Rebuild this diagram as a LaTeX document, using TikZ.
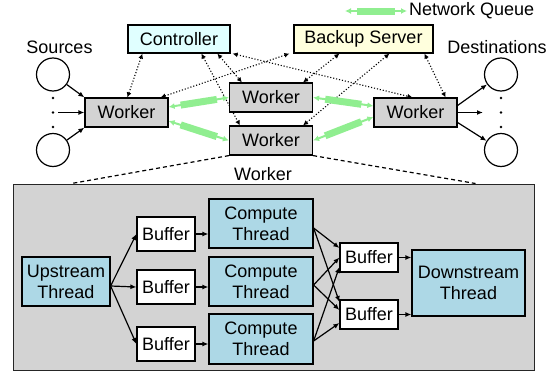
\documentclass[tikz,border=0pt]{standalone}
\usepackage{fontspec}
\setmainfont{Liberation Sans}
\usetikzlibrary{arrows.meta,calc,backgrounds}
\definecolor{ctrlcyan}{HTML}{E0FFFF}
\definecolor{bsyellow}{HTML}{FFFFDD}
\definecolor{wgray}{HTML}{D3D3D3}
\definecolor{tblue}{HTML}{ADD8E6}
\definecolor{qgreen}{HTML}{90EE90}
\newcommand\netqueue[2]{%
  \draw[qthin] (#1) -- (#2);
  \draw[qthick] ($(#1)!0.2!(#2)$) -- ($(#1)!0.8!(#2)$);}
\begin{document}
\begin{tikzpicture}[x=1pt,y=-1pt,
  every node/.style={font=\fontsize{18}{21}\selectfont},
  box/.style={draw=black, line width=1.2pt, inner sep=0pt},
  ctrlbox/.style={box, fill=ctrlcyan, minimum width=102pt, minimum height=28pt},
  bsbox/.style={box, fill=bsyellow, minimum width=139pt, minimum height=28pt},
  wbox/.style={box, fill=wgray, minimum width=83pt, minimum height=29pt},
  bigbox/.style={draw=black!85, line width=1pt, fill=wgray, inner sep=0pt},
  tbox/.style={box, fill=tblue, align=center},
  bufbox/.style={box, fill=white, minimum width=58pt},
  circ/.style={draw=black, circle, line width=1.2pt, minimum size=33pt, inner sep=0pt},
  dotn/.style={circle, fill=black, minimum size=2.6pt, inner sep=0pt},
  arr/.style={line width=1.2pt, -{Latex[length=6pt,width=5pt]}},
  dotconn/.style={line width=1.1pt, dash pattern=on 1.1pt off 1.9pt,
     {Latex[length=5pt,width=5pt]}-{Latex[length=5pt,width=5pt]}},
  dashconn/.style={line width=1.2pt, dash pattern=on 4pt off 3pt},
  qthin/.style={draw=qgreen, line width=2pt,
     {Latex[length=6pt,width=6pt]}-{Latex[length=6pt,width=6pt]}},
  qthick/.style={draw=qgreen, line width=7pt}
]
\useasboundingbox (0,0) rectangle (558,372);

% big worker box
\node[bigbox, minimum width=521pt, minimum height=186pt] (wk) at (273.5,277) {};
\node (wklabel) at (263,174) {Worker};

% top level nodes
\node[ctrlbox] (ctrl) at (179,39) {Controller};
\node[bsbox] (bs) at (363.5,39) {Backup Server};
\node[wbox] (W1) at (126.5,112.5) {Worker};
\node[wbox] (W2) at (271,97.5) {Worker};
\node[wbox] (W3) at (271,140.5) {Worker};
\node[wbox] (W4) at (415.5,112.5) {Worker};

\node (srclab) at (59.5,47) {Sources};
\node (dstlab) at (497,47) {Destinations};
\node[circ] (s1) at (53,74.5) {};
\node[circ] (s2) at (53,150) {};
\node[circ] (d1) at (501,74.5) {};
\node[circ] (d2) at (501,150) {};
\node[dotn] (sd1) at (53,98) {};
\node[dotn] (sd2) at (53,112.5) {};
\node[dotn] (sd3) at (53,127) {};
\node[dotn] (dd1) at (501,98) {};
\node[dotn] (dd2) at (501,112.5) {};
\node[dotn] (dd3) at (501,127) {};
\coordinate (sm) at (58,112.5);
\coordinate (dm) at (483,112.5);

\draw[arr] (s1) -- (W1.north west);
\draw[arr] (sm) -- (W1.west);
\draw[arr] (s2) -- (W1.south west);
\draw[arr] ([yshift=7pt]W4.east) -- (d1);
\draw[arr] (W4.east) -- (dm);
\draw[arr] ([yshift=-10pt]W4.east) -- (d2);

% dotted control connections
\begin{scope}[on background layer]
\draw[dotconn] ([xshift=15pt]ctrl.south west) -- ([xshift=43pt]W1.north west);
\draw[dotconn] ([xshift=74pt]ctrl.south west) -- ([xshift=11pt]W3.north west);
\draw[dotconn] ([xshift=90pt]ctrl.south west) -- ([xshift=13pt]W2.north west);
\draw[dotconn] ([xshift=2pt]ctrl.south east) -- ([xshift=39pt]W4.north west);
\draw[dotconn] ([xshift=-4pt]bs.south west) -- ([xshift=-8pt]W1.north east);
\draw[dotconn] ([xshift=46pt]bs.south west) -- ([xshift=-10pt]W2.north east);
\draw[dotconn] ([xshift=96pt]bs.south west) -- ([xshift=-10pt]W3.north east);
\draw[dotconn] ([xshift=131pt]bs.south west) -- ([xshift=-12pt]W4.north east);
\end{scope}

% network queues
\coordinate (qa1) at ([yshift=5.5pt]W1.east);
\coordinate (qb1) at ([yshift=-8.5pt]W1.east);
\coordinate (qc2) at ([yshift=6.5pt]W4.west);
\coordinate (qd2) at ([yshift=-4.5pt]W4.west);
\netqueue{qa1}{W2.west}
\netqueue{qb1}{W3.west}
\netqueue{W2.east}{qc2}
\netqueue{W3.east}{qd2}

% legend
\coordinate (lg1) at (345,11);
\coordinate (lg2) at (407,11);
\netqueue{lg1}{lg2}
\node[anchor=west, inner sep=2pt] (lgtext) at (lg2) {Network Queue};

% dashed zoom lines
\draw[dashconn] (W3.south west) -- ([xshift=59pt]wk.north west);
\draw[dashconn] (W3.south east) -- ([xshift=-59pt]wk.north east);

% inner worker nodes
\node[tbox, minimum width=88pt, minimum height=49pt] (up) at (66,281.5) {Upstream\\Thread};
\node[bufbox, minimum height=34pt] (lb1) at (166,234) {Buffer};
\node[bufbox, minimum height=34pt] (lb2) at (166,287) {Buffer};
\node[bufbox, minimum height=34pt] (lb3) at (166,344) {Buffer};
\node[tbox, minimum width=104pt, minimum height=49pt] (c1) at (261,223.5) {Compute\\Thread};
\node[tbox, minimum width=104pt, minimum height=49pt] (c2) at (261,281.5) {Compute\\Thread};
\node[tbox, minimum width=104pt, minimum height=50pt] (c3) at (261,339) {Compute\\Thread};
\node[bufbox, minimum height=29pt] (rb1) at (369,257.5) {Buffer};
\node[bufbox, minimum height=29pt] (rb2) at (369,314.5) {Buffer};
\node[tbox, minimum width=113pt, minimum height=66pt] (ds) at (468.5,283) {Downstream\\Thread};

\coordinate (upo) at ([yshift=-4.5pt]up.east);
\draw[arr] (upo) -- (lb1.west);
\draw[arr] (upo) -- (lb2.west);
\draw[arr] (upo) -- (lb3.west);
\draw[arr] (lb1.east) -- (lb1.east -| c1.west);
\draw[arr] (lb2.east) -- (lb2.east -| c2.west);
\draw[arr] (lb3.east) -- (lb3.east -| c3.west);

\draw[arr] ([yshift=-4.5pt]c1.east) -- ([yshift=9.5pt]rb1.west);
\draw[arr] ([yshift=-4.5pt]c1.east) -- ([yshift=12.5pt]rb2.west);
\draw[arr] ([yshift=-3.5pt]c2.east) -- (rb1.west);
\draw[arr] ([yshift=-3.5pt]c2.east) -- ([yshift=4.5pt]rb2.west);
\draw[arr] ([yshift=-2pt]c3.east) -- ([yshift=-9.5pt]rb1.west);
\draw[arr] ([yshift=-2pt]c3.east) -- ([yshift=-8.5pt]rb2.west);

\draw[arr] (rb1.east) -- (rb1.east -| ds.west);
\draw[arr] (rb2.east) -- (rb2.east -| ds.west);
\end{tikzpicture}
\end{document}
